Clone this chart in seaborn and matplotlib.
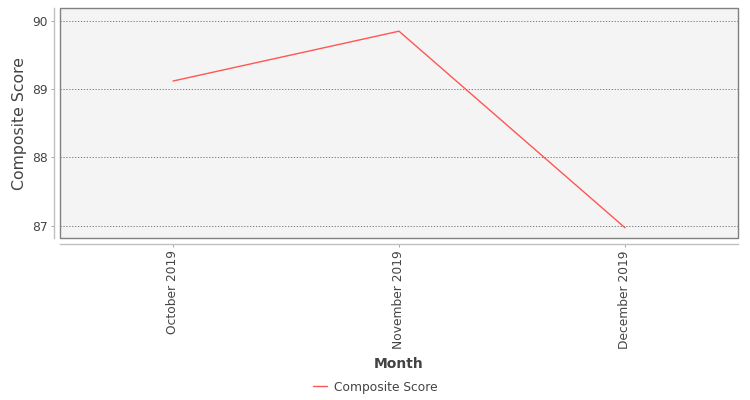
import matplotlib
matplotlib.use("Agg")
import matplotlib.pyplot as plt
import seaborn as sns
import pandas as pd
from matplotlib.patches import Rectangle

months = ["October 2019", "November 2019", "December 2019"]
scores = [89.12, 89.85, 86.97]
y_ticks = [87, 88, 89, 90]

df = pd.DataFrame({"Month": months, "Composite Score": scores})

sns.set_style("white")
plt.rcParams["font.family"] = ["DejaVu Sans"]

fig = plt.figure(figsize=(7.5, 4), dpi=100)
ax = fig.add_axes([0.08, 0.405, 0.904, 0.575])
ax.set_facecolor("#f4f4f4")

sns.lineplot(data=df, x="Month", y="Composite Score", ax=ax, color="#ff5555",
             linewidth=1, sort=False, legend=False)

ax.set_xlim(-0.5, 2.5)
ax.set_ylim(86.82, 90.19)
ax.set_yticks(y_ticks)
ax.set_yticklabels([str(t) for t in y_ticks])
ax.yaxis.grid(True, linestyle=(0, (1.5, 2)), color="#666666", linewidth=0.6)
ax.xaxis.grid(False)

for s in ["top", "right"]:
    ax.spines[s].set_visible(False)
for s in ["left", "bottom"]:
    ax.spines[s].set_position(("outward", 4))
    ax.spines[s].set_color("#c0c0c0")
    ax.spines[s].set_linewidth(1)
ax.add_patch(Rectangle((0, 0), 1, 1, transform=ax.transAxes, fill=False,
                       edgecolor="#808080", linewidth=1, zorder=5, clip_on=False))

ax.tick_params(axis="both", which="both", length=2, width=0.6, color="#999999",
               labelsize=8.8, labelcolor="#444444", pad=3)
ax.tick_params(axis="x", rotation=90)
ax.tick_params(left=True, bottom=True)

ax.set_xlabel("Month", fontsize=10, fontweight="bold", color="#444444", va="center")
ax.xaxis.set_label_coords(0.5, -0.548)
ax.set_ylabel("Composite Score", fontsize=11.3, color="#444444", va="center")
ax.yaxis.set_label_coords(-0.059, 0.5)

handle = plt.Line2D([], [], color="#ff5555", linewidth=1)
fig.legend([handle], ["Composite Score"], loc="center", bbox_to_anchor=(0.5, 0.032),
           frameon=False, fontsize=8.8, handlelength=1.2, handletextpad=0.5,
           labelcolor="#444444")

fig.savefig("out.png", dpi=100)
